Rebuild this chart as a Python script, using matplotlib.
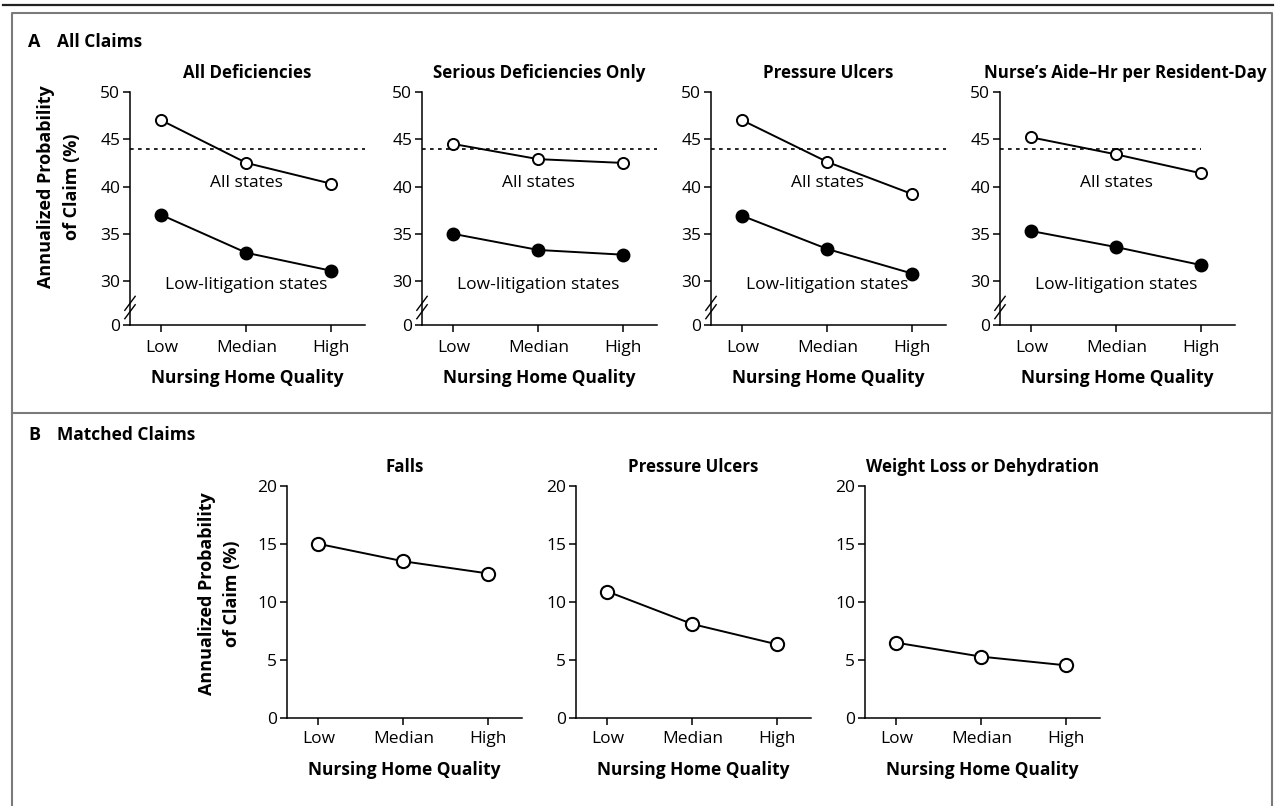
import matplotlib
matplotlib.use("Agg")
import matplotlib.pyplot as plt
from matplotlib.lines import Line2D

plt.rcParams['font.family'] = ['Open Sans', 'DejaVu Sans']

# data
quality_levels = ["Low", "Median", "High"]
overall_rate = 44.0

a_titles = ["All Deficiencies", "Serious Deficiencies Only", "Pressure Ulcers",
            "Nurse\u2019s Aide\u2013Hr per Resident-Day"]
a_all_states = [
    [47.0, 42.5, 40.3],
    [44.5, 42.9, 42.5],
    [47.0, 42.6, 39.2],
    [45.2, 43.4, 41.4],
]
a_low_litigation = [
    [37.0, 33.0, 31.1],
    [35.0, 33.3, 32.8],
    [36.9, 33.4, 30.8],
    [35.3, 33.6, 31.7],
]
a_yticks = [30, 35, 40, 45, 50]

b_titles = ["Falls", "Pressure Ulcers", "Weight Loss or Dehydration"]
b_matched = [
    [15.0, 13.5, 12.45],
    [10.9, 8.1, 6.35],
    [6.5, 5.3, 4.55],
]
b_yticks = [0, 5, 10, 15, 20]

W, H = 1275, 806
fig = plt.figure(figsize=(W / 100, H / 100), dpi=100)

TICK_FS = 12.5
LABEL_FS = 12.5


def px_axes(left, top, width, height):
    return fig.add_axes([left / W, 1 - (top + height) / H, width / W, height / H])


def style(ax, pad, labelpad):
    for s in ['top', 'right']:
        ax.spines[s].set_visible(False)
    for s in ['left', 'bottom']:
        ax.spines[s].set_linewidth(1.1)
    ax.tick_params(direction='out', length=5, width=1.1, labelsize=TICK_FS, pad=2)
    ax.tick_params(axis='x', pad=pad)
    ax.set_xticks(range(len(quality_levels)))
    ax.set_xticklabels(quality_levels)
    ax.set_xlim(-0.37, 2.395)
    ax.set_xlabel("Nursing Home Quality", fontsize=LABEL_FS, fontweight='bold', labelpad=labelpad)


# frame and rules
fig.add_artist(Line2D([3 / W, 1273 / W], [1 - 5 / H, 1 - 5 / H], color='#222222', lw=1.6))
fig.add_artist(Line2D([12 / W, 12 / W, 1272 / W, 1272 / W], [0, 1 - 13 / H, 1 - 13 / H, 0],
                      color='#7a7a7a', lw=1.5))
fig.add_artist(Line2D([12 / W, 1272 / W], [1 - 413 / H, 1 - 413 / H], color='#7a7a7a', lw=1.5))

fig.text(28 / W, 1 - 42 / H, "A", fontsize=13, fontweight='bold', va='center')
fig.text(57 / W, 1 - 42 / H, "All Claims", fontsize=12.5, fontweight='bold', va='center')
fig.text(28 / W, 1 - 435 / H, "B", fontsize=13, fontweight='bold', va='center')
fig.text(57 / W, 1 - 435 / H, "Matched Claims", fontsize=12.5, fontweight='bold', va='center')

# panel A
a_lefts = [130, 422, 711, 1000]
y_floor = 25.37
for i, left in enumerate(a_lefts):
    ax = px_axes(left, 92, 235, 233)
    style(ax, pad=6, labelpad=9)
    ax.set_ylim(y_floor, 50)
    ax.set_yticks([y_floor] + a_yticks)
    ax.set_yticklabels(["0"] + [str(t) for t in a_yticks])
    x = range(len(quality_levels))
    xmax = 2.0 if i == 3 else 2.395
    ax.hlines(overall_rate, -0.37, xmax, colors='black', linestyles=(0, (2.2, 2.6)), lw=1.2)
    ax.plot(x, a_all_states[i], color='black', lw=1.4, marker='o', ms=8,
            mfc='white', mec='black', mew=1.4, zorder=3)
    ax.plot(x, a_low_litigation[i], color='black', lw=1.4, marker='o', ms=9,
            mfc='black', mec='black', zorder=3)
    ax.text(1, 40.35, "All states", ha='center', va='center', fontsize=TICK_FS)
    ax.text(1, 29.6, "Low-litigation states", ha='center', va='center', fontsize=TICK_FS)
    if i == 3:
        ax.text(1267 / W, 1 - 73 / H, a_titles[i], transform=fig.transFigure, ha='right',
                va='center', fontsize=12.2, fontweight='bold')
    else:
        ax.text(0.5, 1 - 73 / H, a_titles[i], transform=ax.get_xaxis_transform() if False else
                matplotlib.transforms.blended_transform_factory(ax.transAxes, fig.transFigure),
                ha='center', va='center', fontsize=12.2, fontweight='bold')
    # axis break marks
    for dy in (-0.018, 0.018):
        ax.plot([-0.022, 0.022], [0.075 + dy - 0.03, 0.075 + dy + 0.03],
                transform=ax.transAxes, color='black', lw=1.0, clip_on=False)

fig.text(46 / W, 1 - 187 / H, "Annualized Probability", rotation=90, fontsize=13,
         fontweight='bold', ha='center', va='center')
fig.text(72 / W, 1 - 187 / H, "of Claim (%)", rotation=90, fontsize=13,
         fontweight='bold', ha='center', va='center')

# panel B
b_lefts = [287, 576, 865]
for i, left in enumerate(b_lefts):
    ax = px_axes(left, 485.7, 235, 232.6)
    style(ax, pad=4, labelpad=10)
    ax.set_ylim(0, 20)
    ax.set_yticks(b_yticks)
    ax.plot(range(len(quality_levels)), b_matched[i], color='black', lw=1.4, marker='o',
            ms=9.5, mfc='white', mec='black', mew=1.5, zorder=3)
    ax.text(0.5, 1 - 467 / H, b_titles[i],
            transform=matplotlib.transforms.blended_transform_factory(ax.transAxes, fig.transFigure),
            ha='center', va='center', fontsize=12.2, fontweight='bold')

fig.text(207 / W, 1 - 594 / H, "Annualized Probability", rotation=90, fontsize=13,
         fontweight='bold', ha='center', va='center')
fig.text(232 / W, 1 - 594 / H, "of Claim (%)", rotation=90, fontsize=13,
         fontweight='bold', ha='center', va='center')

fig.savefig("out.png", dpi=100, facecolor='white')
